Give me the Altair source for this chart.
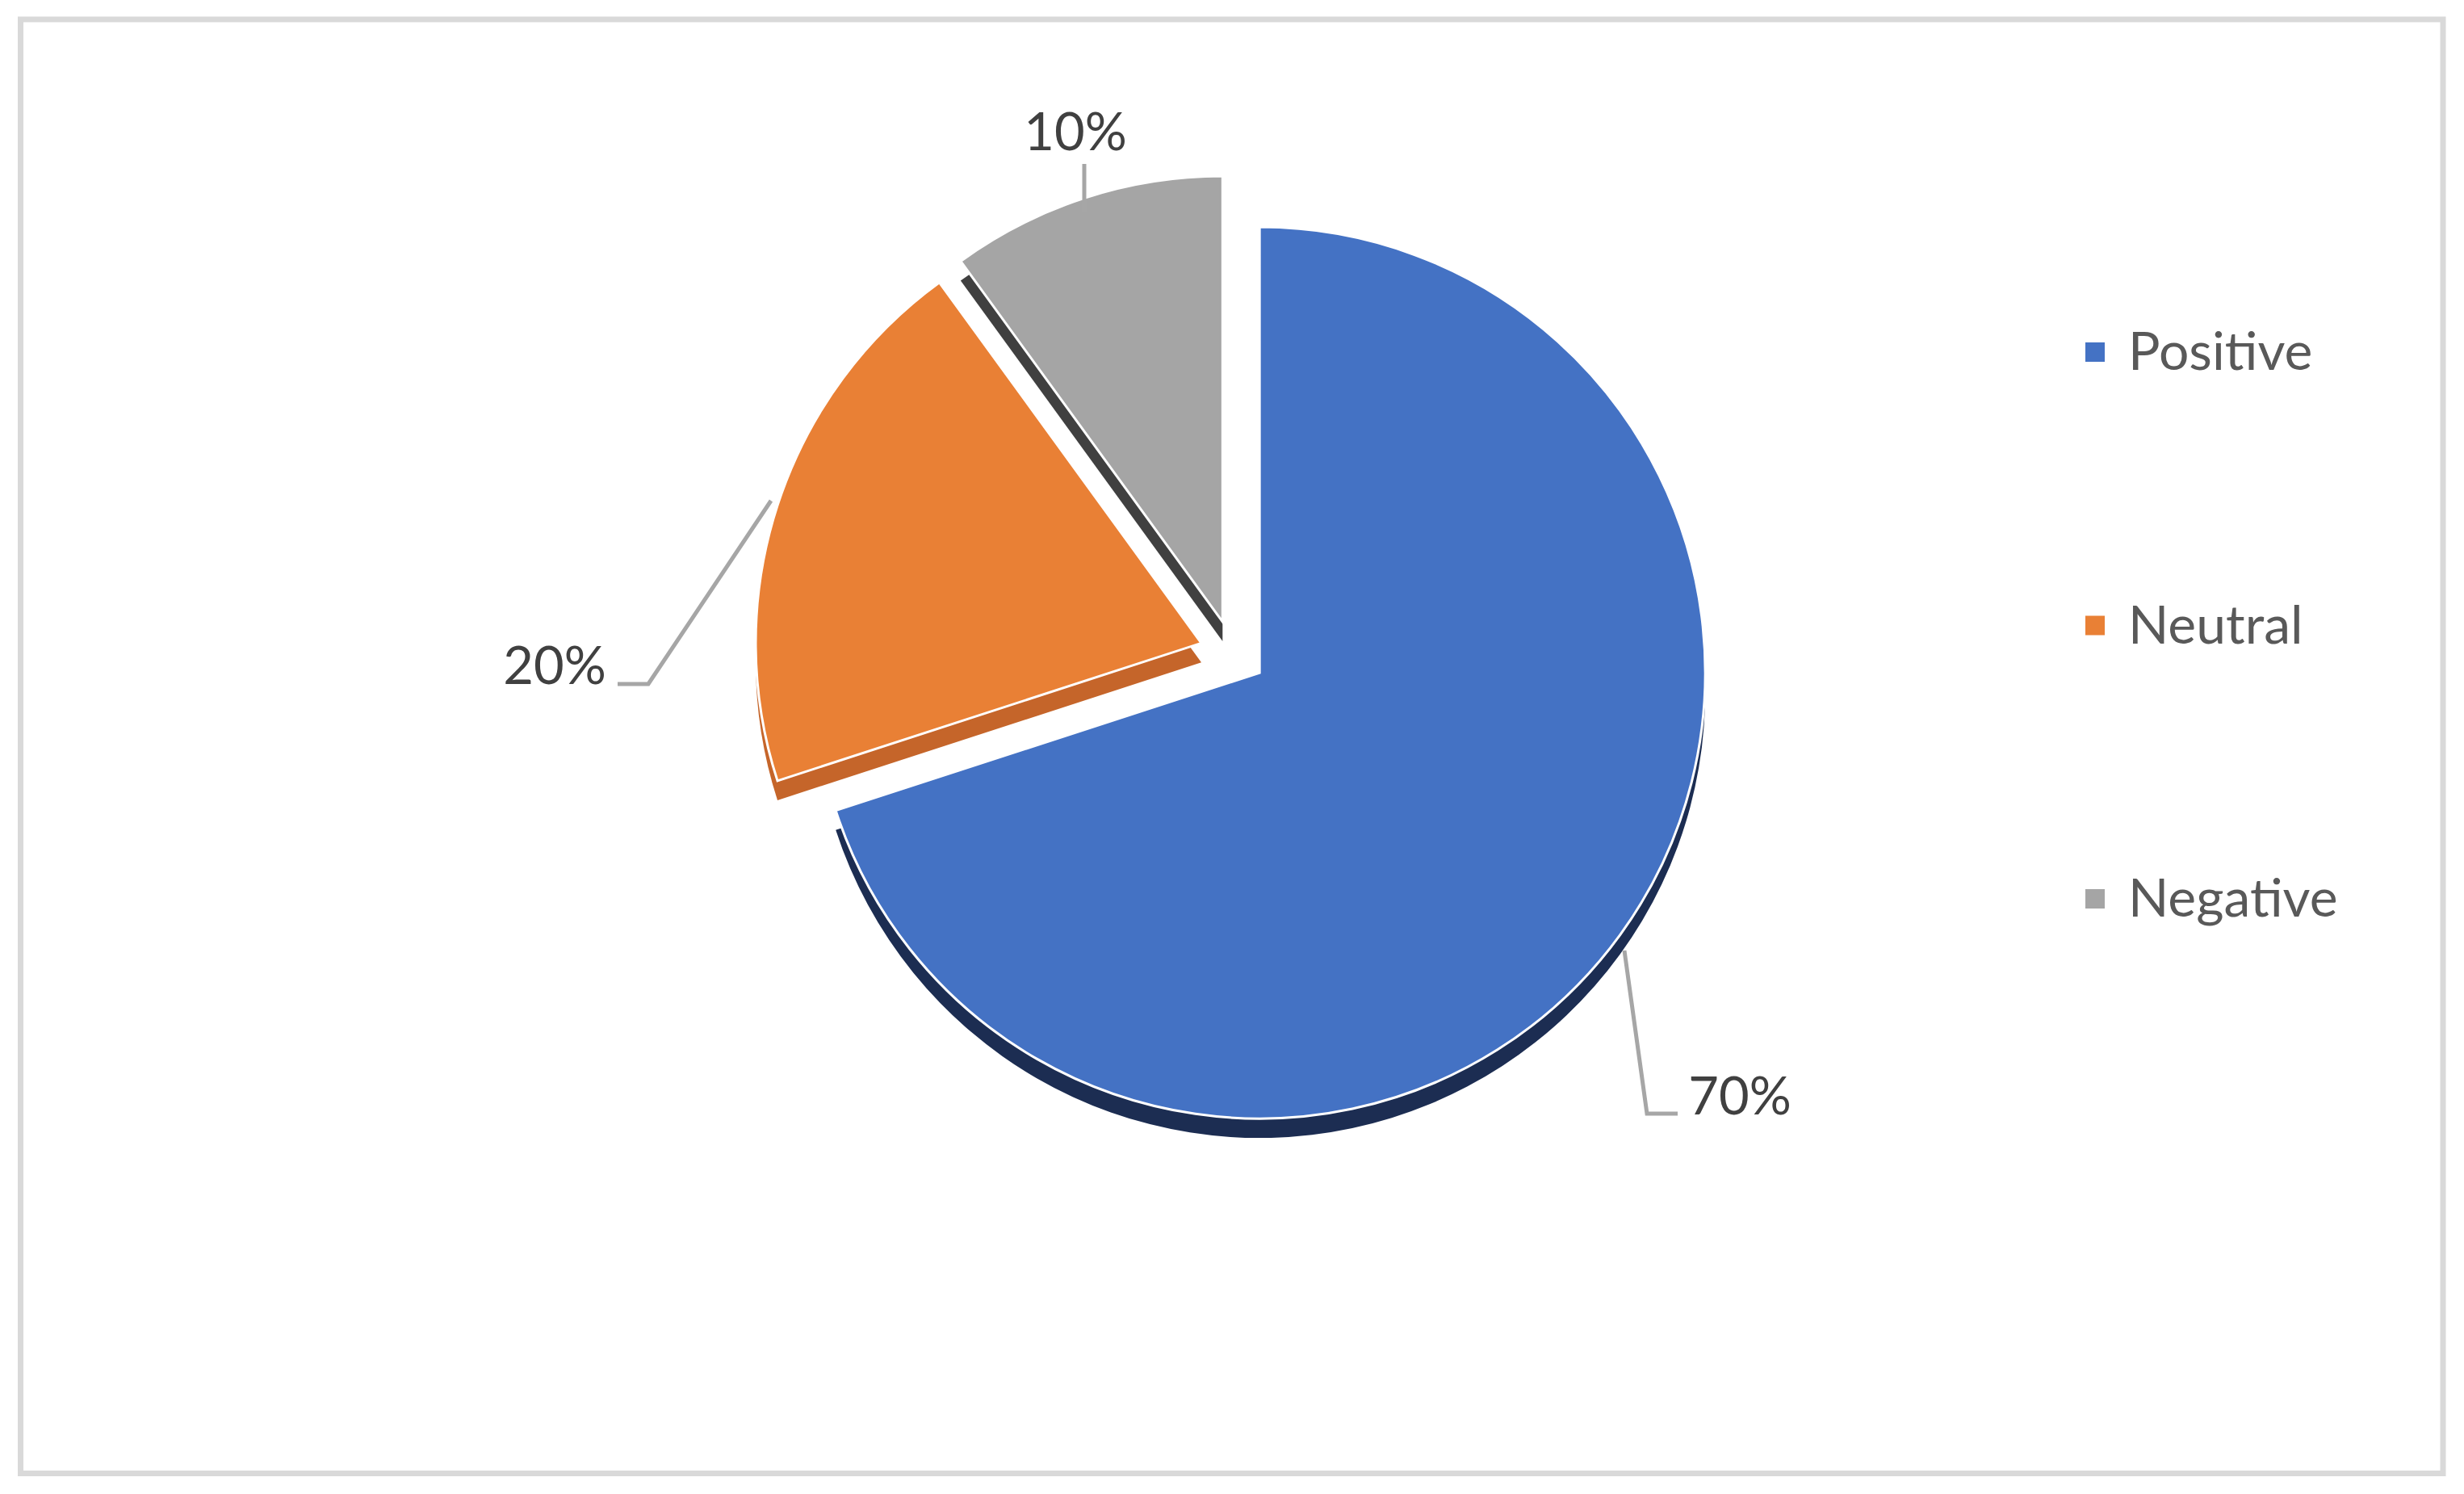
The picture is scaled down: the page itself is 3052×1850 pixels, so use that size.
import math
import altair as alt
import pandas as pd

# ---------------- data ----------------
categories = ["Positive", "Neutral", "Negative"]
shares = [70, 20, 10]

# ---------------- styles / layout ----------------
face_colors = ["#4472C4", "#E98035", "#A5A5A5"]
side_colors = ["#1C2D52", "#C5652A", "#404040"]
FONT = "Lato"
PAGE_W, PAGE_H = 3052, 1850
MARGIN = 8
W, H = PAGE_W - 2 * MARGIN, PAGE_H - 2 * MARGIN

CX, CY = 1527, 809          # pie centre (page px)
EXPLODE = 41                # explode distance
R = 552                     # pie radius
DEPTH = 24                  # 3-D side depth

LABEL_POS = {"Positive": (2155, 1380), "Neutral": (687, 847), "Negative": (1332, 186)}
LEADERS = {
    "Positive": [(2012, 1177), (2040, 1379), (2078, 1379)],
    "Neutral": [(955, 620), (803, 847), (765, 847)],
    "Negative": [(1343, 262), (1343, 203)],
}
LEG_X_SYM, LEG_X_TXT, LEG_Y0, LEG_DY = 2595, 2636, 436, 338.5
BORDER = dict(x=25.5, x2=3026, y=24, y2=1824.5)

# ---------------- tables ----------------
total = sum(shares)
df = pd.DataFrame({"category": categories, "share": shares})
df["idx"] = range(len(df))
df["end"] = df["share"].cumsum()
df["start"] = df["end"] - df["share"]
mid = (df["start"] + df["end"]) / 2 / total * 2 * math.pi
df["px"] = CX + EXPLODE * mid.apply(math.sin)
df["py"] = CY - EXPLODE * mid.apply(math.cos)
df["py_side"] = df["py"] + DEPTH
df["face"] = face_colors
df["side"] = side_colors
df["label"] = df["share"].astype(str) + "%"
df["lx"] = [LABEL_POS[c][0] for c in categories]
df["ly"] = [LABEL_POS[c][1] for c in categories]
df["leg_y"] = LEG_Y0 + df["idx"] * LEG_DY
df["leg_ty"] = df["leg_y"] + 22
df["leg_sx"] = LEG_X_SYM
df["leg_tx"] = LEG_X_TXT

lead_rows = []
for c in categories:
    for k, (x, y) in enumerate(LEADERS[c]):
        lead_rows.append({"category": c, "k": k, "x": x, "y": y})
lead = pd.DataFrame(lead_rows)

border_df = pd.DataFrame([BORDER])

xs = alt.Scale(domain=[MARGIN, MARGIN + W], range=[0, W], nice=False, zero=False)
ys = alt.Scale(domain=[MARGIN, MARGIN + H], range=[0, H], nice=False, zero=False)
ts = alt.Scale(domain=[0, total], range=[0, 2 * math.pi])


def X(f):
    return alt.X(f, type="quantitative", scale=xs, axis=None)


def Y(f):
    return alt.Y(f, type="quantitative", scale=ys, axis=None)


border = alt.Chart(border_df).mark_rect(
    fillOpacity=0, stroke="#D9D9D9", strokeWidth=7
).encode(x=X("x"), x2="x2", y=Y("y"), y2="y2")

sides = alt.Chart(df).mark_arc(radius=R).encode(
    theta=alt.Theta("start:Q", scale=ts, stack=None),
    theta2="end:Q",
    x=X("px"),
    y=Y("py_side"),
    color=alt.Color("side:N", scale=None),
)

faces = alt.Chart(df).mark_arc(radius=R, stroke="white", strokeWidth=3).encode(
    theta=alt.Theta("start:Q", scale=ts, stack=None),
    theta2="end:Q",
    x=X("px"),
    y=Y("py"),
    color=alt.Color("face:N", scale=None),
)

leaders = alt.Chart(lead).mark_line(
    color="#A6A6A6", strokeWidth=5, strokeCap="butt", strokeJoin="miter"
).encode(x=X("x"), y=Y("y"), detail="category:N", order="k:Q")

labels = alt.Chart(df).mark_text(
    font=FONT, fontSize=65, color="#404040", align="center", baseline="alphabetic"
).encode(x=X("lx"), y=Y("ly"), text="label:N")

leg_sym = alt.Chart(df).mark_square(size=576, opacity=1).encode(
    x=X("leg_sx"), y=Y("leg_y"), color=alt.Color("face:N", scale=None)
)
leg_txt = alt.Chart(df).mark_text(
    font=FONT, fontSize=66, color="#595959", align="left", baseline="alphabetic"
).encode(x=X("leg_tx"), y=Y("leg_ty"), text="category:N")

chart = alt.layer(border, sides, faces, leaders, labels, leg_sym, leg_txt).properties(
    width=W, height=H, padding=0,
    autosize=alt.AutoSizeParams(type="fit", contains="padding"),
    background="white",
).configure_view(stroke=None)

chart.save("out.html", embed_options={"renderer": "svg", "actions": False})
